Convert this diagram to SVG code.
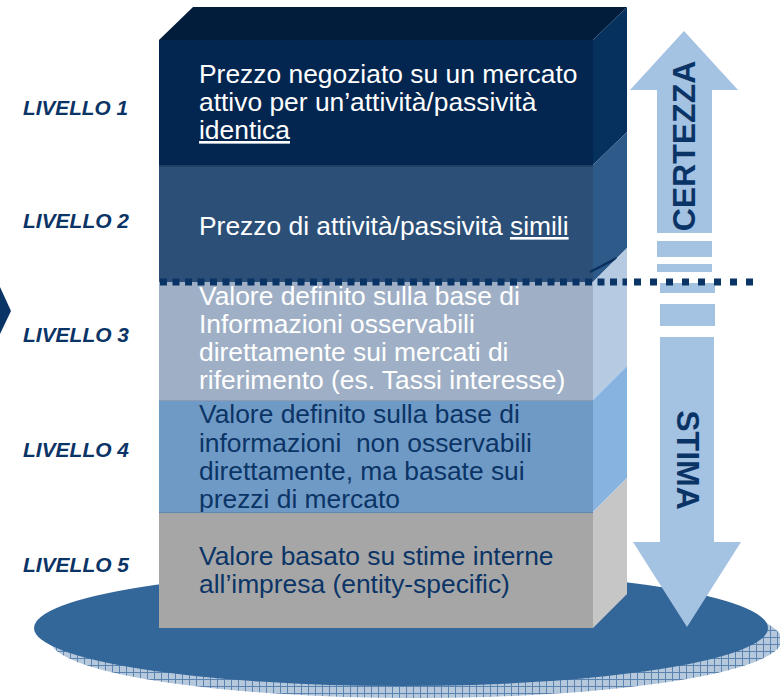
<svg xmlns="http://www.w3.org/2000/svg" width="780" height="700" viewBox="0 0 780 700">
<defs>
<style>
.lbl{font-family:"Liberation Sans",Arial,sans-serif;font-weight:bold;font-style:italic;font-size:19.5px;fill:#0b3466}
.bt{font-family:"Liberation Sans",Arial,sans-serif;font-size:26.4px}
.w{fill:#ffffff}
.d{fill:#0b3466}
.arr{fill:#a4c2e2}
.big{font-family:"Liberation Sans",Arial,sans-serif;font-weight:bold;font-size:32px;fill:#0b3466}
</style>
<pattern id="hatch" width="7" height="7" patternUnits="userSpaceOnUse">
<rect width="7" height="7" fill="#b6c8dc"/>
<path d="M0 0.5H7M0.5 0V7" stroke="#5a83b0" stroke-width="1"/>
</pattern>
</defs>
<rect width="780" height="700" fill="#ffffff"/>
<g id="base">
<ellipse cx="416" cy="640" rx="366" ry="58" fill="url(#hatch)"/>
<ellipse cx="401" cy="628" rx="367" ry="58" fill="#336699"/>
</g>
<polygon id="chevron" points="0,287 11,311 0,334" fill="#0b3466"/>
<g id="level1">
<polygon points="159,40 193,7 627,7 593,40" fill="#021d3b"/>
<polygon points="593,40 627,7 627,132 593,165" fill="#06305e"/>
<rect x="159" y="40" width="434" height="125" fill="#032650"/>
<text class="bt w"><tspan x="199" y="83">Prezzo negoziato su un mercato</tspan><tspan x="199" y="111">attivo per un’attività/passività</tspan><tspan x="199" y="139" text-decoration="underline">identica</tspan></text>
</g>
<g id="level2">
<polygon points="593,165 627,132 627,248 593,282" fill="#2d5a88"/>
<rect x="159" y="165" width="434" height="117" fill="#2b4f77"/>
<line x1="159" y1="166" x2="593" y2="166" stroke="#1e3f66" stroke-width="2"/>
<line x1="590" y1="272" x2="617" y2="258" stroke="#0a2f5c" stroke-width="2.5"/>
<text class="bt w" x="199" y="235">Prezzo di attività/passività <tspan text-decoration="underline">simili</tspan></text>
</g>
<g id="level3">
<polygon points="593,282 627,248 627,366 593,400" fill="#b6cbe2"/>
<rect x="159" y="282" width="434" height="118" fill="#9fb0c6"/>
<text class="bt w"><tspan x="199" y="305">Valore definito sulla base di</tspan><tspan x="199" y="333">Informazioni osservabili</tspan><tspan x="199" y="361">direttamente sui mercati di</tspan><tspan x="199" y="389">riferimento (es. Tassi interesse)</tspan></text>
</g>
<g id="level4">
<polygon points="593,400 627,366 627,478 593,512" fill="#86b3e0"/>
<rect x="159" y="400" width="434" height="112" fill="#6f9ac5"/>
<line x1="159" y1="400.5" x2="593" y2="400.5" stroke="#8a9cb3" stroke-width="1"/>
<text class="bt d"><tspan x="199" y="423">Valore definito sulla base di</tspan><tspan x="199" y="452" xml:space="preserve">informazioni  non osservabili</tspan><tspan x="199" y="480">direttamente, ma basate sui</tspan><tspan x="199" y="508">prezzi di mercato</tspan></text>
</g>
<g id="level5">
<polygon points="593,512 627,478 627,594 593,628" fill="#c6c6c6"/>
<rect x="159" y="512" width="434" height="116" fill="#a6a6a6"/>
<line x1="159" y1="512.5" x2="593" y2="512.5" stroke="#5f87b3" stroke-width="1"/>
<text class="bt d"><tspan x="199" y="565">Valore basato su stime interne</tspan><tspan x="199" y="593">all’impresa (entity-specific)</tspan></text>
</g>
<g id="certezza">
<polygon class="arr" points="684,31 738,90 712,90 712,233 657,233 657,90 630,90"/>
<rect class="arr" x="657" y="241" width="55" height="16"/>
<rect class="arr" x="657" y="264" width="55" height="8"/>
<text class="big" transform="translate(695,146) rotate(-90)" text-anchor="middle">CERTEZZA</text>
</g>
<g id="stima">
<rect class="arr" x="660" y="283" width="55" height="10"/>
<rect class="arr" x="660" y="304" width="55" height="22"/>
<polygon class="arr" points="660,337 714,337 714,542 741,542 687,627 633,542 660,542"/>
<text class="big" transform="translate(677,460) rotate(90)" text-anchor="middle">STIMA</text>
</g>
<g id="connectors">
<line x1="160" y1="282" x2="627" y2="282" stroke="#0b3466" stroke-width="7" stroke-dasharray="7 5.5"/>
<line x1="634" y1="282" x2="762" y2="282" stroke="#0b3466" stroke-width="7" stroke-dasharray="7 9"/>
</g>
<g id="labels">
<text class="lbl" x="23" y="115" textLength="105" lengthAdjust="spacingAndGlyphs">LIVELLO 1</text>
<text class="lbl" x="23" y="228" textLength="106" lengthAdjust="spacingAndGlyphs">LIVELLO 2</text>
<text class="lbl" x="23" y="342" textLength="106" lengthAdjust="spacingAndGlyphs">LIVELLO 3</text>
<text class="lbl" x="23" y="457" textLength="106" lengthAdjust="spacingAndGlyphs">LIVELLO 4</text>
<text class="lbl" x="23" y="572" textLength="106" lengthAdjust="spacingAndGlyphs">LIVELLO 5</text>
</g>
</svg>
